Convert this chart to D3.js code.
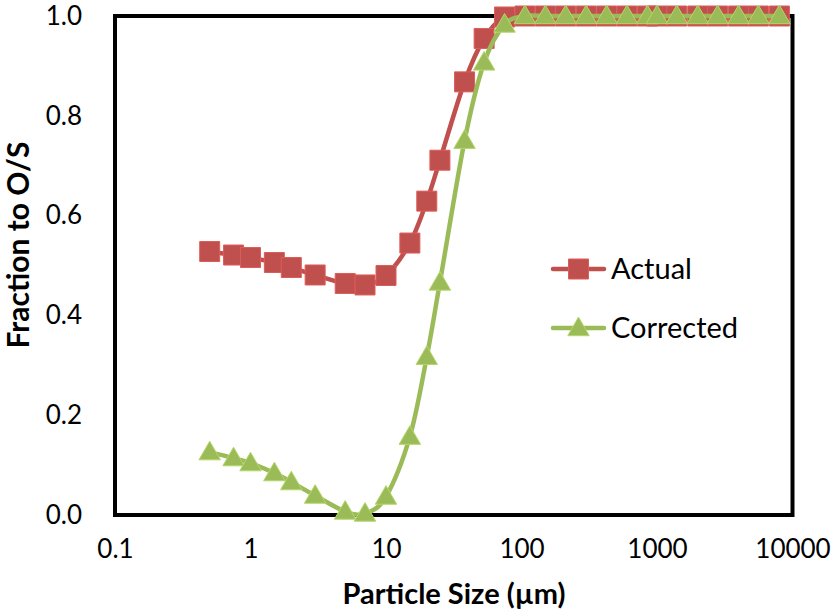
<!DOCTYPE html>
<html>
<head>
<meta charset="utf-8">
<script src="https://cdn.jsdelivr.net/npm/d3@7"></script>
<style>
  html, body { margin: 0; padding: 0; background: #fff; }
  svg { display: block; }
  text { font-family: Lato, "Open Sans", sans-serif; fill: #000; }
</style>
</head>
<body>
<svg id="chart" width="833" height="615"></svg>
<script>
// Particle size (µm) for each measured fraction
const sizes = [0.5, 0.75, 1, 1.5, 2, 3, 5, 7, 10, 15, 20, 25, 38, 53, 75,
  106, 150, 212, 300, 425, 600, 850, 1000, 1400, 2000, 2800, 4000, 5600, 8000];

// Fraction reporting to overflow (O/S)
const actual = [0.528, 0.521, 0.516, 0.506, 0.496, 0.481, 0.464, 0.461, 0.480, 0.545,
  0.629, 0.711, 0.868, 0.955, 0.998,
  1, 1, 1, 1, 1, 1, 1, 1, 1, 1, 1, 1, 1, 1];
const corrected = [0.126, 0.114, 0.104, 0.084, 0.066, 0.039, 0.007, 0.003, 0.037, 0.157,
  0.317, 0.466, 0.750, 0.907, 0.983,
  1, 1, 1, 1, 1, 1, 1, 1, 1, 1, 1, 1, 1, 1];

const seriesNames = ["Actual", "Corrected"];
const xTicks = [0.1, 1, 10, 100, 1000, 10000];
const xTickLabels = ["0.1", "1", "10", "100", "1000", "10000"];
const yTicks = [0, 0.2, 0.4, 0.6, 0.8, 1.0];
const yTickLabels = ["0.0", "0.2", "0.4", "0.6", "0.8", "1.0"];

const red = "#C0504D", green = "#9BBB59";
const plot = { left: 115, right: 792.5, top: 16, bottom: 515 };

const svg = d3.select("#chart");

const x = d3.scaleLog().domain([0.1, 10000]).range([plot.left, plot.right]);
const y = d3.scaleLinear().domain([0, 1]).range([plot.bottom, plot.top]);

// Axes: labels only, no tick marks or domain lines
const xAxis = svg.append("g")
  .attr("transform", `translate(0,${plot.bottom})`)
  .call(d3.axisBottom(x).tickValues(xTicks).tickSize(0).tickPadding(25)
    .tickFormat((d, i) => xTickLabels[i]));
xAxis.select(".domain").remove();
xAxis.selectAll("text").attr("font-size", 26).attr("font-family", "Lato").attr("fill", "#000");

const yAxis = svg.append("g")
  .attr("transform", `translate(${plot.left},0)`)
  .call(d3.axisLeft(y).tickValues(yTicks).tickSize(0).tickPadding(33)
    .tickFormat((d, i) => yTickLabels[i]));
yAxis.select(".domain").remove();
yAxis.selectAll("text").attr("font-size", 26).attr("font-family", "Lato").attr("fill", "#000");

// Axis titles
svg.append("text")
  .attr("x", 454)
  .attr("y", 604)
  .attr("text-anchor", "middle")
  .attr("font-size", 29).attr("font-weight", "bold")
  .text("Particle Size (µm)");

svg.append("text")
  .attr("transform", `translate(29,245) rotate(-90)`)
  .attr("text-anchor", "middle")
  .attr("font-size", 30).attr("font-weight", "bold")
  .text("Fraction to O/S");

// Plot area frame
svg.append("rect")
  .attr("x", plot.left).attr("y", plot.top)
  .attr("width", plot.right - plot.left).attr("height", plot.bottom - plot.top)
  .attr("fill", "none").attr("stroke", "#000").attr("stroke-width", 4);

const line = d3.line()
  .x(d => x(d[0])).y(d => y(d[1]))
  .curve(d3.curveCatmullRom.alpha(0));

const sq = d3.symbol().type(d3.symbolSquare).size(400);
const tri = d3.symbol().type(d3.symbolTriangle).size(200);

function drawSeries(values, color, symbol, triangle) {
  const pts = sizes.map((s, i) => [s, values[i]]);
  svg.append("path")
    .datum(pts)
    .attr("d", line)
    .attr("fill", "none")
    .attr("stroke", color)
    .attr("stroke-width", 4.5)
    .attr("stroke-linejoin", "round");
  svg.append("g").selectAll("path")
    .data(pts)
    .join("path")
    .attr("d", symbol)
    .attr("transform", d => `translate(${x(d[0])},${y(d[1]) + (triangle ? 1.5 : 0)})`)
    .attr("fill", color)
    .attr("stroke", d3.color(color).brighter(0.4))
    .attr("stroke-width", 1);
}

drawSeries(actual, red, sq, false);
drawSeries(corrected, green, tri, true);

// Legend
const legend = [
  { name: seriesNames[0], color: red, symbol: sq, tri: false, y: 269 },
  { name: seriesNames[1], color: green, symbol: tri, tri: true, y: 328 }
];
const lg = svg.append("g");
legend.forEach(l => {
  lg.append("line")
    .attr("x1", 553).attr("x2", 604).attr("y1", l.y).attr("y2", l.y)
    .attr("stroke", l.color).attr("stroke-width", 4.5).attr("stroke-linecap", "round");
  lg.append("path")
    .attr("d", l.symbol)
    .attr("transform", `translate(578.5,${l.y + (l.tri ? 1.5 : 0)})`)
    .attr("fill", l.color)
    .attr("stroke", d3.color(l.color).brighter(0.4)).attr("stroke-width", 1);
  lg.append("text")
    .attr("x", 611).attr("y", l.y)
    .attr("dy", "0.36em")
    .attr("font-size", 29)
    .text(l.name);
});
</script>
</body>
</html>
